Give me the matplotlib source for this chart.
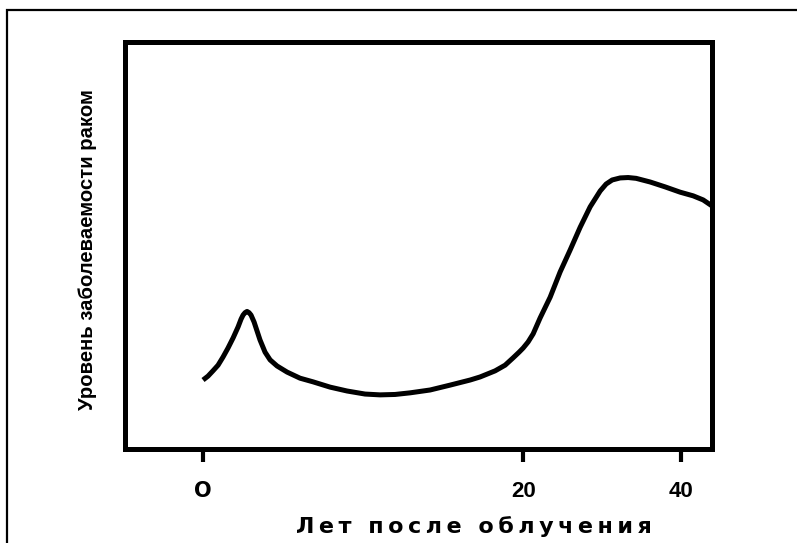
import numpy as np
import matplotlib
matplotlib.use("Agg")
import matplotlib.pyplot as plt
from matplotlib.patches import Rectangle

# years after exposure vs. cancer incidence (arbitrary units)
years = [0, 0.31, 0.62, 0.94, 1.25, 1.56, 1.88, 2.19, 2.375, 2.5, 2.625, 2.75,
         2.875, 3.0, 3.19, 3.375, 3.56, 3.875, 4.19, 4.625, 5.25, 6.06, 6.875,
         7.94, 9.0, 10.125, 11.06, 12.0, 12.94, 14.19, 15.44, 16.69, 17.31,
         18.25, 18.875, 19.375, 19.75, 20.0, 20.63, 21.27, 22.15, 23.42, 24.68,
         25.95, 27.22, 28.48, 29.75, 30.5, 31.27, 32.28, 33.29, 34.3, 36.08,
         37.97, 39.87, 41.52, 42.78, 43.92]
incidence = [16.95, 17.9, 19.2, 20.6, 22.6, 24.8, 27.3, 30.0, 31.9, 32.9, 33.5,
             33.8, 33.5, 32.9, 31.2, 29.0, 26.8, 23.8, 21.9, 20.4, 18.9, 17.4,
             16.5, 15.2, 14.25, 13.5, 13.3, 13.4, 13.8, 14.5, 15.7, 16.95, 17.7,
             19.2, 20.6, 22.4, 23.8, 24.8, 26.3, 28.3, 32.2, 37.3, 43.5, 48.9,
             54.5, 59.5, 63.4, 65.1, 66.1, 66.6, 66.7, 66.5, 65.6, 64.4, 63.1,
             62.2, 61.2, 59.7]

xticks = [0, 20, 40]
xticklabels = ["O", "20", "40"]
ylabel = "Уровень заболеваемости раком"
xlabel = "Лет после облучения"


def fwd(x):
    x = np.asarray(x, dtype=float)
    return np.where(x <= 20, x * 16.0, 320.0 + (x - 20) * 7.9)


def inv(v):
    v = np.asarray(v, dtype=float)
    return np.where(v <= 320, v / 16.0, 20 + (v - 320) / 7.9)


fig = plt.figure(figsize=(7.97, 5.43), dpi=100)
fig.patches.append(Rectangle((7 / 797, -0.1), 1.2, 1.1 - 10 / 543,
                             transform=fig.transFigure, fill=False,
                             edgecolor="black", linewidth=1.6))

ax = fig.add_axes([125 / 797, 94 / 543, 587 / 797, 407 / 543])
ax.set_xscale("function", functions=(fwd, inv))
ax.plot(years, incidence, color="black", lw=3.6, solid_joinstyle="round",
        solid_capstyle="butt")
ax.set_xlim(-4.875, 43.9)
ax.set_ylim(0, 100)

for s in ax.spines.values():
    s.set_linewidth(3.6)
ax.set_yticks([])
ax.set_xticks(xticks)
ax.minorticks_off()
ax.tick_params(axis="x", direction="out", length=9, width=3, pad=14)
ax.set_xticklabels(xticklabels)
for t, lab in zip(ax.get_xticklabels(), xticklabels):
    if lab == "O":
        t.set_family("DejaVu Sans")
        t.set_fontsize(15)
    else:
        t.set_family("Liberation Sans")
        t.set_fontsize(16)
    t.set_fontweight("bold")

fig.text(88 / 797, 1 - 250 / 543, ylabel, rotation=90, ha="center",
         va="center", family="Liberation Sans", fontsize=14.6,
         fontweight="bold")
fig.text(474 / 797, 1 - 527 / 543, "\u2009".join(xlabel),
         ha="center", va="center", family="DejaVu Sans", fontsize=16,
         fontweight="bold")

fig.savefig("out.png", dpi=100)
